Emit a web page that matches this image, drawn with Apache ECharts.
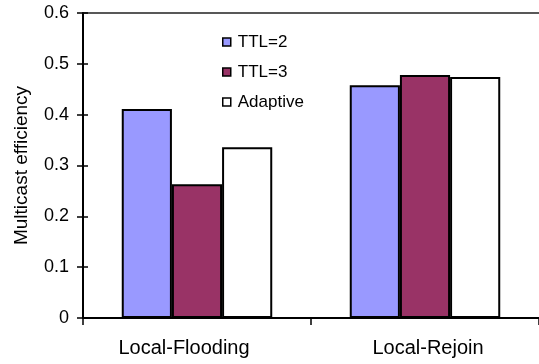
<!DOCTYPE html>
<html><head><meta charset="utf-8">
<script src="https://cdn.jsdelivr.net/npm/echarts@6/dist/echarts.min.js"></script>
<style>html,body{margin:0;padding:0;background:#fff}#c{width:539px;height:364px}</style>
</head><body><div id="c"></div>
<script>
const categories = ['Local-Flooding', 'Local-Rejoin'];
const ttl2 = [0.411, 0.458];
const ttl3 = [0.263, 0.478];
const adaptive = [0.336, 0.474];
const yTicks = [0, 0.1, 0.2, 0.3, 0.4, 0.5, 0.6];

const font = 'Liberation Sans, Arial, sans-serif';
const chart = echarts.init(document.getElementById('c'), null, {renderer: 'canvas'});
function bar(name, data, color) {
  return {name, type: 'bar', data, barGap: '0%', barCategoryGap: '34%',
    itemStyle: {color, borderColor: '#000', borderWidth: 2}};
}
chart.setOption({
  animation: false,
  backgroundColor: '#fff',
  grid: {left: 83, right: 0, top: 13, bottom: 46, outerBoundsMode: 'none', containLabel: false},
  legend: {orient: 'vertical', left: 217, top: 27, itemWidth: 8, itemHeight: 8, itemGap: 10,
    icon: 'rect',
    itemStyle: {borderColor: '#000', borderWidth: 1.5},
    textStyle: {fontFamily: font, fontSize: 17, color: '#000', lineHeight: 20, padding: [0,0,0,2]},
    data: ['TTL=2', 'TTL=3', 'Adaptive']},
  xAxis: [{type: 'category', data: categories, position: 'bottom',
    axisLine: {lineStyle: {color: '#000', width: 2}},
    axisTick: {show: true, length: 7, lineStyle: {color: '#000', width: 1.5}},
    axisLabel: {fontFamily: font, fontSize: 20, color: '#000', margin: 20,
      formatter: (v, i) => i === 0 ? '{a|' + v + '}' : '{b|' + v + '}',
      rich: {a: {fontFamily: font, fontSize: 20, color: '#000', padding: [0, 26, 0, 0]},
             b: {fontFamily: font, fontSize: 20, color: '#000', padding: [0, 0, 0, 6]}}}},
   {type: 'category', data: categories, position: 'top',
    axisLine: {show: true, onZero: false, lineStyle: {color: '#222', width: 1.5}},
    axisTick: {show: false}, axisLabel: {show: false}}],
  yAxis: [{type: 'value', min: 0, max: 0.6, interval: 0.1,
    name: 'Multicast efficiency', nameLocation: 'middle', nameGap: 52,
    nameTextStyle: {fontFamily: font, fontSize: 19, color: '#000'},
    axisLine: {show: true, lineStyle: {color: '#000', width: 2}},
    axisTick: {show: true, length: 6, lineStyle: {color: '#000', width: 1.5}},
    splitLine: {show: false},
    axisLabel: {fontFamily: font, fontSize: 18, color: '#000', margin: 14,
      formatter: v => { const t = yTicks.find(x => Math.abs(x - v) < 1e-9); return t === undefined ? '' : String(t); }}},
   {type: 'value', min: 0, max: 0.6, interval: 0.1, position: 'left',
    axisLine: {show: false}, splitLine: {show: false}, axisLabel: {show: false},
    axisTick: {show: true, inside: true, length: 5, lineStyle: {color: '#000', width: 1.5}}}],
  series: [bar('TTL=2', ttl2, '#9999FF'), bar('TTL=3', ttl3, '#993366'), bar('Adaptive', adaptive, '#FFFFFF')]
});
</script></body></html>
